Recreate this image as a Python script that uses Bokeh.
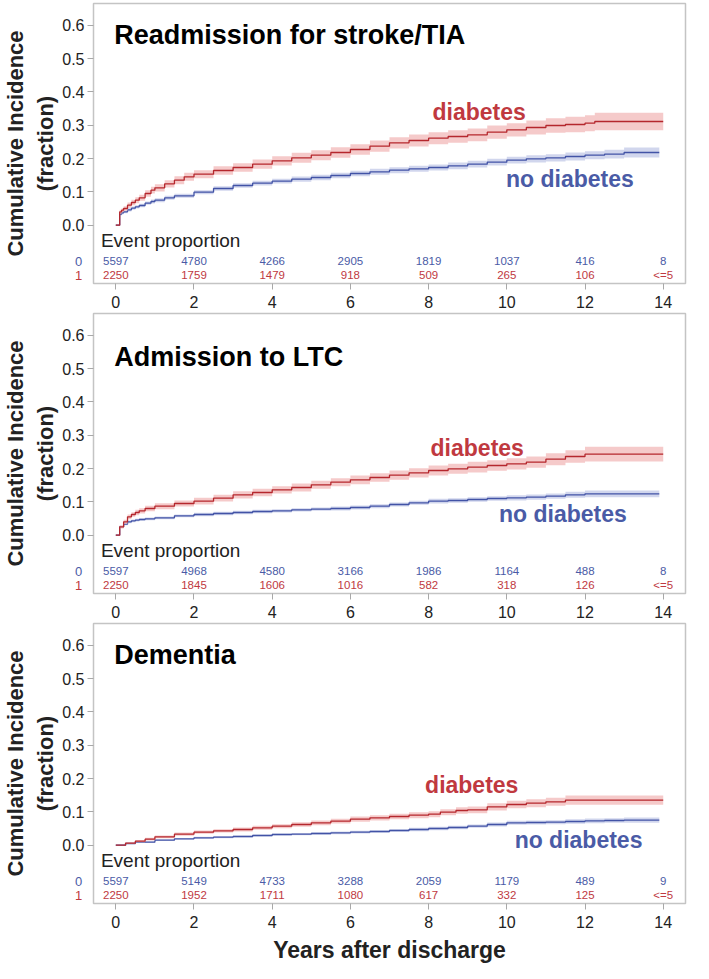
from bokeh.plotting import figure
from bokeh.layouts import column
from bokeh.models import Label, FixedTicker, NumeralTickFormatter, Range1d
from bokeh.embed import file_html
from bokeh.resources import INLINE
from bokeh.core.properties import value

# ---------------- data ----------------
titles = ["Readmission for stroke/TIA", "Admission to LTC", "Dementia"]
group_labels = ["no diabetes", "diabetes"]
risk_row_labels = ["0", "1"]
risk_times = [0, 2, 4, 6, 8, 10, 12, 14]
x_ticks = [0, 2, 4, 6, 8, 10, 12, 14]
y_ticks = [0.0, 0.1, 0.2, 0.3, 0.4, 0.5, 0.6]

# Panel 1: readmission for stroke/TIA
p1_diab_t = [0, 0.1, 0.15, 0.2, 0.3, 0.4, 0.5, 0.6, 0.75, 0.9, 1, 1.25, 1.5, 1.75, 2, 2.5, 3, 3.5, 4, 4.5, 5, 5.5, 6, 6.5, 7, 7.5, 8, 8.5, 9, 9.5, 10, 10.5, 11, 11.5, 12, 12.25, 14]
p1_diab_ci = [0, 0.040, 0.045, 0.050, 0.060, 0.068, 0.075, 0.082, 0.095, 0.105, 0.112, 0.124, 0.135, 0.145, 0.153, 0.164, 0.173, 0.183, 0.193, 0.202, 0.210, 0.218, 0.227, 0.237, 0.247, 0.254, 0.261, 0.266, 0.271, 0.279, 0.286, 0.293, 0.299, 0.302, 0.306, 0.311, 0.311]
p1_diab_hw = [0, 0.006, 0.006, 0.007, 0.008, 0.008, 0.009, 0.009, 0.010, 0.010, 0.011, 0.011, 0.012, 0.012, 0.012, 0.013, 0.013, 0.014, 0.014, 0.015, 0.015, 0.016, 0.016, 0.017, 0.017, 0.018, 0.018, 0.019, 0.019, 0.020, 0.020, 0.021, 0.022, 0.023, 0.024, 0.026, 0.026]
p1_nodiab_t = [0, 0.1, 0.15, 0.2, 0.3, 0.4, 0.5, 0.6, 0.75, 0.9, 1, 1.25, 1.5, 2, 2.5, 3, 3.5, 4, 4.5, 5, 5.5, 6, 6.5, 7, 7.5, 8, 8.5, 9, 9.5, 10, 10.5, 11, 11.5, 12, 12.5, 13, 13.9]
p1_nodiab_ci = [0, 0.033, 0.037, 0.040, 0.046, 0.051, 0.055, 0.059, 0.066, 0.071, 0.075, 0.082, 0.088, 0.099, 0.110, 0.119, 0.126, 0.132, 0.138, 0.143, 0.149, 0.155, 0.160, 0.165, 0.169, 0.173, 0.178, 0.183, 0.189, 0.195, 0.199, 0.202, 0.206, 0.210, 0.213, 0.218, 0.218]
p1_nodiab_hw = [0, 0.004, 0.004, 0.004, 0.005, 0.005, 0.005, 0.005, 0.005, 0.006, 0.006, 0.006, 0.006, 0.006, 0.007, 0.007, 0.007, 0.007, 0.008, 0.008, 0.008, 0.008, 0.009, 0.009, 0.009, 0.009, 0.010, 0.010, 0.010, 0.010, 0.011, 0.011, 0.012, 0.012, 0.013, 0.015, 0.015]
p1_risk_nodiab = ["5597", "4780", "4266", "2905", "1819", "1037", "416", "8"]
p1_risk_diab = ["2250", "1759", "1479", "918", "509", "265", "106", "<=5"]

# Panel 2: admission to LTC
p2_diab_t = [0, 0.1, 0.2, 0.3, 0.4, 0.5, 0.6, 0.75, 1, 1.5, 2, 2.5, 3, 3.5, 4, 4.5, 5, 5.5, 6, 6.5, 7, 7.5, 8, 8.5, 9, 9.5, 10, 10.5, 11, 11.5, 12, 14]
p2_diab_ci = [0, 0.025, 0.040, 0.055, 0.062, 0.068, 0.073, 0.080, 0.087, 0.095, 0.102, 0.111, 0.121, 0.128, 0.136, 0.143, 0.151, 0.159, 0.166, 0.173, 0.180, 0.187, 0.194, 0.199, 0.204, 0.209, 0.214, 0.219, 0.228, 0.236, 0.243, 0.243]
p2_diab_hw = [0, 0.005, 0.006, 0.007, 0.007, 0.008, 0.008, 0.008, 0.009, 0.009, 0.010, 0.010, 0.011, 0.011, 0.011, 0.012, 0.012, 0.012, 0.013, 0.013, 0.014, 0.014, 0.015, 0.015, 0.016, 0.016, 0.017, 0.017, 0.018, 0.019, 0.022, 0.022]
p2_nodiab_t = [0, 0.1, 0.2, 0.3, 0.4, 0.5, 0.6, 0.75, 1, 1.5, 2, 2.5, 3, 3.5, 4, 4.5, 5, 5.5, 6, 6.5, 7, 7.5, 8, 8.5, 9, 9.5, 10, 10.5, 11, 11.5, 12, 13.9]
p2_nodiab_ci = [0, 0.025, 0.033, 0.040, 0.043, 0.045, 0.047, 0.049, 0.052, 0.058, 0.062, 0.065, 0.068, 0.071, 0.073, 0.076, 0.078, 0.080, 0.083, 0.087, 0.092, 0.097, 0.102, 0.104, 0.107, 0.110, 0.112, 0.114, 0.117, 0.121, 0.124, 0.124]
p2_nodiab_hw = [0, 0.003, 0.003, 0.004, 0.004, 0.004, 0.004, 0.004, 0.004, 0.004, 0.005, 0.005, 0.005, 0.005, 0.005, 0.005, 0.005, 0.006, 0.006, 0.006, 0.006, 0.006, 0.007, 0.007, 0.007, 0.007, 0.008, 0.008, 0.008, 0.009, 0.010, 0.010]
p2_risk_nodiab = ["5597", "4968", "4580", "3166", "1986", "1164", "488", "8"]
p2_risk_diab = ["2250", "1845", "1606", "1016", "582", "318", "126", "<=5"]

# Panel 3: dementia
p3_diab_t = [0, 0.25, 0.5, 0.75, 1, 1.5, 2, 2.5, 3, 3.5, 4, 4.5, 5, 5.5, 6, 6.5, 7, 7.5, 8, 8.3, 8.7, 9, 9.5, 10, 10.5, 11, 11.5, 14]
p3_diab_ci = [0, 0.006, 0.012, 0.018, 0.025, 0.033, 0.039, 0.043, 0.047, 0.052, 0.057, 0.062, 0.067, 0.072, 0.078, 0.082, 0.086, 0.090, 0.093, 0.099, 0.104, 0.106, 0.115, 0.122, 0.126, 0.130, 0.135, 0.135]
p3_diab_hw = [0, 0.002, 0.003, 0.004, 0.004, 0.005, 0.005, 0.005, 0.006, 0.006, 0.006, 0.007, 0.007, 0.007, 0.008, 0.008, 0.008, 0.009, 0.009, 0.009, 0.010, 0.010, 0.011, 0.011, 0.012, 0.012, 0.014, 0.014]
p3_nodiab_t = [0, 0.25, 0.5, 1, 1.5, 2, 2.5, 3, 3.5, 4, 4.5, 5, 5.5, 6, 6.5, 7, 7.5, 8, 8.5, 9, 9.5, 10, 10.5, 11, 11.5, 12, 12.5, 13, 13.9]
p3_nodiab_ci = [0, 0.005, 0.009, 0.015, 0.019, 0.022, 0.024, 0.026, 0.029, 0.032, 0.033, 0.035, 0.037, 0.039, 0.041, 0.044, 0.047, 0.050, 0.053, 0.057, 0.062, 0.067, 0.068, 0.069, 0.071, 0.073, 0.074, 0.075, 0.075]
p3_nodiab_hw = [0, 0.001, 0.002, 0.002, 0.002, 0.003, 0.003, 0.003, 0.003, 0.003, 0.003, 0.004, 0.004, 0.004, 0.004, 0.004, 0.005, 0.005, 0.005, 0.005, 0.006, 0.006, 0.006, 0.006, 0.007, 0.007, 0.007, 0.008, 0.008]
p3_risk_nodiab = ["5597", "5149", "4733", "3288", "2059", "1179", "489", "9"]
p3_risk_diab = ["2250", "1952", "1711", "1080", "617", "332", "125", "<=5"]

# ---------------- style ----------------
RED_LINE = "#B5272D"
RED_TEXT = "#C0393F"
RED_BAND = "#F2BDBD"
BLUE_LINE = "#4253A6"
BLUE_TEXT = "#4A5BA6"
BLUE_BAND = "#C6CCE8"
FONT = "Liberation Sans"
FRAME_W = 592
FRAME_H = 280

panels = [
    dict(title=titles[0], diab=(p1_diab_t, p1_diab_ci, p1_diab_hw), nodiab=(p1_nodiab_t, p1_nodiab_ci, p1_nodiab_hw),
         risk0=p1_risk_nodiab, risk1=p1_risk_diab, title_y=0.57, dlab=(8.1, 0.34), ndlab=(9.98, 0.138)),
    dict(title=titles[1], diab=(p2_diab_t, p2_diab_ci, p2_diab_hw), nodiab=(p2_nodiab_t, p2_nodiab_ci, p2_nodiab_hw),
         risk0=p2_risk_nodiab, risk1=p2_risk_diab, title_y=0.535, dlab=(8.05, 0.262), ndlab=(9.8, 0.063)),
    dict(title=titles[2], diab=(p3_diab_t, p3_diab_ci, p3_diab_hw), nodiab=(p3_nodiab_t, p3_nodiab_ci, p3_nodiab_hw),
         risk0=p3_risk_nodiab, risk1=p3_risk_diab, title_y=0.571, dlab=(7.91, 0.182), ndlab=(10.2, 0.016)),
]


def make_panel(cfg, last):
    p = figure(frame_width=FRAME_W, frame_height=FRAME_H,
               x_range=Range1d(-0.57, 14.57), y_range=Range1d(-0.175, 0.665),
               output_backend="svg", toolbar_location=None,
               min_border_left=86, min_border_right=0, min_border_top=3,
               min_border_bottom=0)
    p.grid.visible = False
    p.outline_line_color = "#C4C4C4"
    p.outline_line_width = 1.5
    p.background_fill_color = "white"
    p.border_fill_color = "white"

    for ax in (p.xaxis[0], p.yaxis[0]):
        ax.axis_line_color = None
        ax.major_tick_line_color = "#A8A8A8"
        ax.major_tick_out = 6
        ax.major_tick_in = 0
        ax.minor_tick_line_color = None
        ax.major_label_text_font = FONT
        ax.major_label_text_font_size = "16px"
        ax.major_label_text_color = "#222222"
        ax.major_label_standoff = 6
    p.xaxis.ticker = FixedTicker(ticks=x_ticks)
    p.yaxis.ticker = FixedTicker(ticks=y_ticks)
    p.yaxis.formatter = NumeralTickFormatter(format="0.0")
    p.yaxis.major_label_standoff = 3

    p.yaxis.axis_label = "Cumulative Incidence\n(fraction)"
    p.yaxis.axis_label_text_font = FONT
    p.yaxis.axis_label_text_font_style = "bold"
    p.yaxis.axis_label_text_font_size = "22px"
    p.yaxis.axis_label_text_color = "#222222"
    p.yaxis.axis_label_standoff = 1
    if last:
        p.xaxis.axis_label = "Years after discharge"
        p.xaxis.axis_label_text_font = FONT
        p.xaxis.axis_label_text_font_style = "bold"
        p.xaxis.axis_label_text_font_size = "23px"
        p.xaxis.axis_label_text_color = "#222222"
        p.xaxis.axis_label_standoff = 6

    # curves: no diabetes then diabetes
    for key, band, line in (("nodiab", BLUE_BAND, BLUE_LINE), ("diab", RED_BAND, RED_LINE)):
        t, ci, hw = cfg[key]
        lo = [c - h for c, h in zip(ci, hw)]
        hi = [c + h for c, h in zip(ci, hw)]
        p.varea_step(x=t, y1=lo, y2=hi, step_mode="after", fill_color=band, fill_alpha=0.8)
        p.step(x=t, y=ci, mode="after", line_color=line, line_width=1.3)

    # panel title
    p.text(x=[-0.04], y=[cfg["title_y"]], text=[cfg["title"]], text_font=value(FONT),
           text_font_style="bold", text_font_size="27px", text_color="black",
           text_baseline="middle", text_align="left")
    # group labels
    p.text(x=[cfg["dlab"][0]], y=[cfg["dlab"][1]], text=[group_labels[1]], text_font=value(FONT),
           text_font_style="bold", text_font_size="23px", text_color=RED_TEXT,
           text_baseline="middle", text_align="left")
    p.text(x=[cfg["ndlab"][0]], y=[cfg["ndlab"][1]], text=[group_labels[0]], text_font=value(FONT),
           text_font_style="bold", text_font_size="23px", text_color=BLUE_TEXT,
           text_baseline="middle", text_align="left")

    # event proportion table
    p.text(x=[-0.38], y=[-0.046], text=["Event proportion"], text_font=value(FONT),
           text_font_size="19px", text_color="#222222", text_baseline="middle", text_align="left")
    p.text(x=risk_times, y=[-0.108] * len(risk_times), text=cfg["risk0"], text_font=value(FONT),
           text_font_size="11.5px", text_color=BLUE_TEXT, text_baseline="middle", text_align="center")
    p.text(x=risk_times, y=[-0.150] * len(risk_times), text=cfg["risk1"], text_font=value(FONT),
           text_font_size="11.5px", text_color=RED_TEXT, text_baseline="middle", text_align="center")
    # row labels of the table: hosted in a side panel so they are not clipped to the frame
    p.add_layout(Label(x=-0.95, y=-0.108, text=risk_row_labels[0], text_font=FONT, text_font_size="13px",
                       text_color=BLUE_TEXT, text_baseline="middle", text_align="center"), "right")
    p.add_layout(Label(x=-0.95, y=-0.150, text=risk_row_labels[1], text_font=FONT, text_font_size="13px",
                       text_color=RED_TEXT, text_baseline="middle", text_align="center"), "right")
    return p


figs = [make_panel(cfg, i == 2) for i, cfg in enumerate(panels)]
layout = column(*figs, spacing=0)

open("out.html", "w").write(file_html(layout, INLINE))
